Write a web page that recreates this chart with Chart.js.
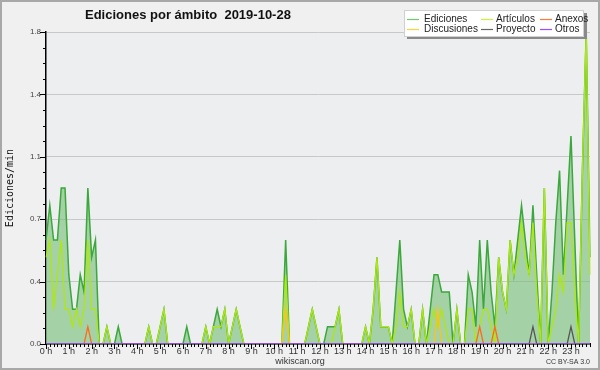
<!DOCTYPE html>
<html><head><meta charset="utf-8">
<script src="https://cdn.jsdelivr.net/npm/chart.js@4.4.1/dist/chart.umd.min.js"></script>
<style>html,body{margin:0;padding:0;background:#f0f0f0}#wrap{width:600px;height:370px;position:relative}</style>
</head><body><div id="wrap"><canvas id="c" width="600" height="370"></canvas></div>
<script>
const titleText = 'Ediciones por ámbito  2019-10-28';
const yTitle = 'Ediciones/min';
const hourLabels = ['0 h','1 h','2 h','3 h','4 h','5 h','6 h','7 h','8 h','9 h','10 h','11 h','12 h','13 h','14 h','15 h','16 h','17 h','18 h','19 h','20 h','21 h','22 h','23 h'];
const categories = [];
for (let h = 0; h < 24; h++) for (let m = 0; m < 60; m += 10) categories.push(h + ':' + String(m).padStart(2, '0'));

// edits per minute, 10-minute buckets (144)
const ediciones = [
0.6,0.8,0.6,0.6,0.9,0.9, 0.4,0.2,0.2,0.4,0.3,0.9, 0.5,0.6,0,0,0.1,0, 0,0.1,0,0,0,0,
0,0,0,0.1,0,0, 0.1,0.2,0,0,0,0, 0,0.1,0,0,0,0, 0.1,0,0.1,0.2,0.1,0.2,
0,0.1,0.2,0.1,0,0, 0,0,0,0,0,0, 0,0,0,0.6,0,0, 0,0,0,0.1,0.2,0.1,
0,0,0.1,0.1,0.1,0.2, 0,0,0,0,0,0, 0.1,0,0.2,0.5,0.1,0.1, 0.1,0,0.3,0.6,0.2,0.1,
0.2,0,0,0.2,0,0.2, 0.4,0.4,0.3,0.3,0.3,0, 0.2,0,0,0.4,0.3,0.1, 0.6,0.2,0.6,0.3,0.1,0.5,
0.3,0.2,0.6,0.4,0.6,0.8, 0.6,0.4,0.8,0.4,0,0.9, 0,0.3,0.7,1.0,0.4,0.8, 1.2,0.6,0,1.0,1.8,0.5
];
const articulos = [
0.5,0.6,0.2,0.4,0.6,0.2, 0.2,0.1,0.2,0.1,0.2,0.6, 0.2,0.2,0,0,0.1,0, 0,0,0,0,0,0,
0,0,0,0.1,0,0, 0.1,0.2,0,0,0,0, 0,0,0,0,0,0, 0.1,0,0.1,0.1,0.1,0.2,
0,0.1,0.2,0.1,0,0, 0,0,0,0,0,0, 0,0,0,0.4,0,0, 0,0,0,0.1,0.2,0.1,
0,0,0,0,0.1,0.2, 0,0,0,0,0,0, 0.1,0,0.2,0.5,0.1,0.1, 0.1,0,0.1,0.3,0.1,0.1,
0.2,0,0,0.2,0,0.1, 0.2,0.1,0.2,0.1,0,0, 0.2,0,0,0.2,0.2,0, 0.1,0.2,0.2,0.1,0,0.5,
0.3,0.2,0.6,0.4,0.5,0.7, 0.5,0.4,0.7,0.3,0,0.9, 0,0.1,0.2,0.4,0.3,0.7, 0.7,0.3,0,1.0,1.8,0.4
];
const anexos = new Array(144).fill(0);
const discusiones = new Array(144).fill(0);
const proyecto = new Array(144).fill(0);
const otros = new Array(144).fill(0);
const anexosPts = {11:0.1, 114:0.1, 118:0.1};
const discusionesPts = {63:0.2, 103:0.2};
const proyectoPts = {128:0.1, 138:0.1};
for (const k in anexosPts) anexos[k] = anexosPts[k];
for (const k in discusionesPts) discusiones[k] = discusionesPts[k];
for (const k in proyectoPts) proyecto[k] = proyectoPts[k];

const seriesNames = ['Ediciones','Artículos','Anexos','Discusiones','Proyecto','Otros'];
const lineColors = ['#3aa83a','#aee80e','#ff6a1a','#ffc21a','#555555','#9a44ff'];
const legendColors = ['#6ccc6c','#c8f23c','#ff7a3c','#ffd23c','#666666','#9a4cff'];

const deco = {
  id: 'deco',
  beforeDraw(chart) {
    const {ctx, chartArea: a} = chart;
    ctx.save();
    ctx.fillStyle = '#f0f0f0'; ctx.fillRect(0, 0, 600, 370);
    ctx.fillStyle = '#eceef0'; ctx.fillRect(a.left, a.top, a.right - a.left, a.bottom - a.top);
    ctx.restore();
  },
  afterDraw(chart) {
    const {ctx, chartArea: a, scales: {x, y}} = chart;
    ctx.save();
    // tick marks
    ctx.strokeStyle = '#000'; ctx.lineWidth = 1;
    ctx.beginPath();
    y.ticks.forEach(t => {
      const py = Math.round(y.getPixelForValue(t.value)) + 0.5;
      const r = t.value / 0.36, major = Math.abs(r - Math.round(r)) < 1e-6;
      const len = major ? 6 : 3;
      ctx.moveTo(a.left - len, py); ctx.lineTo(a.left, py);
    });
    for (let i = 0; i < categories.length; i++) {
      const px = Math.round(x.getPixelForValue(i)) + 0.5;
      const len = (i % 6 === 0) ? 5 : 3;
      ctx.moveTo(px, a.bottom); ctx.lineTo(px, a.bottom + len);
    }
    ctx.stroke();
    // title
    ctx.fillStyle = '#111';
    ctx.font = 'bold 13px "Liberation Sans"';
    ctx.textAlign = 'left'; ctx.textBaseline = 'alphabetic';
    ctx.fillText(titleText, 85, 18.5);
    // legend box
    ctx.fillStyle = '#8a8a8a'; ctx.fillRect(407, 13, 180, 26);
    ctx.fillStyle = '#ffffff'; ctx.fillRect(404, 10, 180, 27);
    ctx.strokeStyle = '#d0d0d0'; ctx.strokeRect(404.5, 10.5, 179, 26);
    const cols = [[407, 424], [481, 496], [540, 555]];
    const rows = [19, 29];
    ctx.font = '10px "Liberation Sans"'; ctx.textBaseline = 'middle';
    seriesNames.forEach((n, i) => {
      const c = cols[i % 3], r = rows[Math.floor(i / 3)];
      ctx.strokeStyle = legendColors[i]; ctx.lineWidth = 1.2;
      ctx.beginPath(); ctx.moveTo(c[0], r + 0.5); ctx.lineTo(c[0] + 12, r + 0.5); ctx.stroke();
      ctx.fillStyle = '#222'; ctx.fillText(n, c[1], r);
    });
    // footer
    ctx.fillStyle = '#333'; ctx.font = '9px "Liberation Sans"'; ctx.textAlign = 'center';
    ctx.fillText('wikiscan.org', 300, 362);
    ctx.font = '7px "Liberation Sans"'; ctx.textAlign = 'right';
    ctx.fillText('CC BY-SA 3.0', 590, 362);
    // frame
    ctx.strokeStyle = '#a8a8a8'; ctx.lineWidth = 2;
    ctx.strokeRect(1, 1, 598, 368);
    ctx.restore();
  }
};

const mk = (i, data, extra) => Object.assign({
  label: seriesNames[i], data, borderColor: lineColors[i], borderWidth: 1.3,
  pointRadius: 0, tension: 0, fill: false, order: 10 - i
}, extra || {});

new Chart(document.getElementById('c'), {
  type: 'line',
  data: {
    labels: categories,
    datasets: [
      mk(0, ediciones, {fill: 'origin', backgroundColor: 'rgba(120,190,120,0.62)', borderWidth: 1.5}),
      mk(1, articulos),
      mk(2, anexos),
      mk(3, discusiones),
      mk(4, proyecto),
      mk(5, otros)
    ]
  },
  options: {
    responsive: false, animation: false,
    layout: {padding: {left: 0, top: 32, right: 10, bottom: 0}},
    plugins: {legend: {display: false}, tooltip: {enabled: false}, title: {display: false}},
    scales: {
      x: {
        type: 'category', offset: false,
        grid: {display: false, drawTicks: false},
        border: {display: true, color: '#000', width: 1.5},
        ticks: {autoSkip: false, maxRotation: 0, minRotation: 0, padding: 2, color: '#333',
          font: {family: 'Liberation Sans', size: 9},
          callback: (v, i) => (i % 6 === 0 ? hourLabels[i / 6] : '')},
        afterFit: s => { s.height = 26; }
      },
      y: {
        min: 0, max: 1.8,
        grid: {drawTicks: false, color: c => {
          const r = c.tick.value / 0.36; return Math.abs(r - Math.round(r)) < 1e-6 ? '#c8c8c8' : 'rgba(0,0,0,0)'; }},
        border: {display: true, color: '#000', width: 1.5},
        ticks: {stepSize: 0.09, padding: 5, color: '#444', font: {family: 'Liberation Sans', size: 8},
          callback: v => { const r = v / 0.36; return Math.abs(r - Math.round(r)) < 1e-6 ? v.toFixed(1) : ''; }},
        title: {display: true, text: yTitle, color: '#111', padding: {top: 4, bottom: 0},
          font: {family: 'DejaVu Sans Mono', size: 10}},
        afterFit: s => { s.width = 46; }
      }
    }
  },
  plugins: [deco]
});
</script></body></html>
